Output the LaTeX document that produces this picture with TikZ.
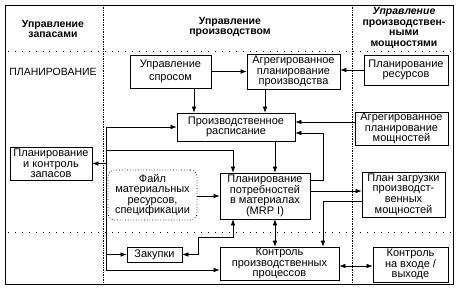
\documentclass[tikz,border=0pt]{standalone}
\usepackage{fontspec}
\setmainfont{Liberation Sans}
\usetikzlibrary{arrows.meta}
\newcommand\mybox[7][]{\node[box,#1,minimum width={#5-#3},minimum height={#6-#4}] (#2) at ({(#3+#5)/2},{(#4+#6)/2}) {#7};}
\begin{document}
\begin{tikzpicture}[x=1pt,y=-1pt,
  box/.style={draw,line width=0.7pt,align=center,inner sep=0pt,font=\fontsize{11}{10.6}\selectfont},
  hdr/.style={align=center,inner sep=0pt,font=\bfseries\fontsize{10.5}{10.8}\selectfont},
  arr/.style={-{Latex[length=6pt,width=4.5pt]},line width=0.6pt},
  darr/.style={{Latex[length=6pt,width=4.5pt]}-{Latex[length=6pt,width=4.5pt]},line width=0.6pt},
  ln/.style={line width=0.6pt},
  hsep/.style={line width=1pt,dash pattern=on 0.9pt off 6pt},
]
\useasboundingbox (0,0) rectangle (461,289);
% frame and separators
\draw[line width=0.8pt] (5,5) rectangle (453,284);
\draw[line width=0.7pt,densely dotted] (103,5) -- (103,284);
\draw[line width=0.7pt,densely dotted] (352,5) -- (352,284);
\draw[hsep] (8,51) -- (452,51);
\draw[hsep] (8,232) -- (452,232);
% headers
\node[hdr] (h1) at (53,29) {Управление\\запасами};
\node[hdr] (h2) at (230,27) {Управление\\производством};
\node[hdr] (h3) at (404,28) {\textit{Управление}\\производствен-\\ными\\мощностями};
\node[inner sep=0pt,font=\fontsize{10.5}{10.5}\selectfont] (plan) at (53,72) {ПЛАНИРОВАНИЕ};
% boxes
\mybox[font=\fontsize{11}{12.5}\selectfont]{spros}{130}{55}{211}{88}{Управление\\спросом}
\mybox{agrprod}{247}{54}{340}{89}{Агрегированное\\планирование\\производства}
\mybox{res}{364}{55}{448}{85}{Планирование\\ресурсов}
\mybox{sched}{177}{113}{295}{141}{Производственное\\расписание}
\mybox{agrcap}{355}{112}{448}{145}{Агрегированное\\планирование\\мощностей}
\mybox{zapasy}{10}{147}{92}{180}{Планирование\\и контроль\\запасов}
\mybox[dotted,rounded corners=7pt]{file}{108}{170}{197}{220}{Файл\\материальных\\ресурсов,\\спецификации}
\mybox{mrp}{220}{173}{310}{219}{Планирование\\потребностей\\в материалах\\(MRP I)}
\mybox{zagr}{362}{172}{445}{217}{План загрузки\\производст-\\венных\\мощностей}
\mybox{zak}{127}{247}{182}{262}{Закупки}
\mybox{kontrol}{220}{247}{339}{280}{Контроль\\производственных\\процессов}
\mybox{vhod}{373}{247}{448}{282}{Контроль\\на входе /\\выходе}
% helper coordinates
\coordinate (xa) at (194,0);
\coordinate (xb) at (265,0);
\coordinate (xc) at (323,0);
\coordinate (xd) at (233,0);
\coordinate (xe) at (275,0);
\coordinate (xf) at (198,0);
\coordinate (ya) at (0,122);
\coordinate (yb) at (0,133);
\coordinate (yc) at (0,180);
\coordinate (yd) at (0,150);
\coordinate (ye) at (0,191);
\coordinate (yf) at (0,201);
\coordinate (yg) at (0,237);
\coordinate (yh) at (0,270);
\coordinate (yi) at (0,266);
\coordinate (bus) at (106,0);
% connectors
\draw[arr] (spros) -- (spros -| agrprod.west);
\draw[arr] (res.west) -- (res.west -| agrprod.east);
\draw[arr] (spros.south -| xa) -- (sched.north -| xa);
\draw[arr] (agrprod.south -| xb) -- (sched.north -| xb);
\draw[arr] (agrcap.west |- ya) -- (sched.east |- ya);
\draw[arr] (mrp.east |- yc) -| (xc |- yb) -- (sched.east |- yb);
\draw[arr] (sched.south -| xe) -- (mrp.north -| xe);
\draw[arr] (bus |- sched.west) -- (sched.west);
\draw[ln] (bus |- sched.west) -- (bus |- yh);
\draw[arr] (bus |- yh) -- (kontrol.west |- yh);
\draw[arr] (bus |- yd) -| (mrp.north -| xd);
\draw[arr] (bus |- zapasy.east) -- (zapasy.east);
\draw[arr] (bus |- zak.west) -- (zak.west);
\draw[arr] (file.east |- mrp.west) -- (mrp.west);
\draw[arr] (mrp.east |- ye) -- (zagr.west |- ye);
\draw[arr] (zagr.west |- yf) -| (kontrol.north -| xc);
\draw[darr] (mrp.south -| xd) -- (xd |- yg) -- (xf |- yg) -- (xf |- zak.east) -- (zak.east);
\draw[darr] (mrp.south -| xe) -- (kontrol.north -| xe);
\draw[darr] (kontrol.east |- yi) -- (vhod.west |- yi);
\end{tikzpicture}
\end{document}
